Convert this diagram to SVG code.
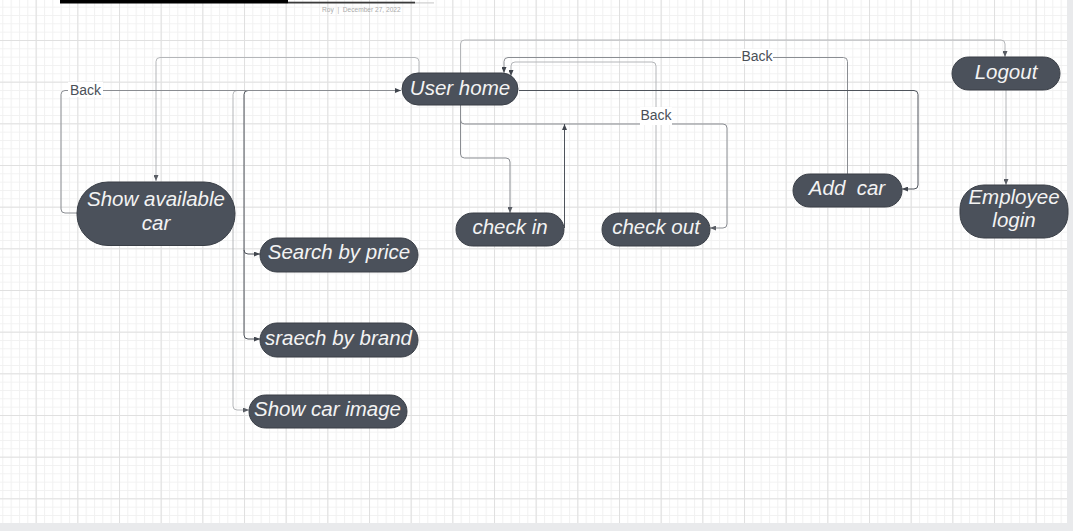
<svg xmlns="http://www.w3.org/2000/svg" width="1073" height="531" viewBox="0 0 1073 531">
<style>
.node rect{fill:#4b515b;stroke:#3a3f47;stroke-width:1}
.node text{fill:#f3f3f3;font-family:"Liberation Sans",Arial,sans-serif;font-style:italic;font-size:20.5px;text-anchor:middle}
.c{fill:none;stroke-width:1}
.dk{stroke:#4e535b}
.md{stroke:#8a8d92}
.lt{stroke:#b4b6b9}
.lbl{font-family:"Liberation Sans",Arial,sans-serif;font-size:14px;fill:#4a4f57;text-anchor:middle}
</style>
<defs>
<pattern id="minor" x="2.33" y="6.67" width="8.3333" height="8.3333" patternUnits="userSpaceOnUse">
<path d="M0 0.5H8.3333M0.5 0V8.3333" stroke="#f1f1f1" stroke-width="1" fill="none"/>
</pattern>
<pattern id="major" x="35.67" y="40" width="41.6667" height="41.6667" patternUnits="userSpaceOnUse">
<path d="M0 0.5H41.6667M0.5 0V41.6667" stroke="#e0e0e0" stroke-width="1" fill="none"/>
</pattern>
<marker id="ad" viewBox="0 0 6 5" markerWidth="6" markerHeight="5" refX="6" refY="2.5" orient="auto" markerUnits="userSpaceOnUse">
<path d="M0 0L6 2.5L0 5z" fill="#40454d"/>
</marker>
<marker id="ag" viewBox="0 0 6 5" markerWidth="6" markerHeight="5" refX="6" refY="2.5" orient="auto" markerUnits="userSpaceOnUse">
<path d="M0 0L6 2.5L0 5z" fill="#5a5e65"/>
</marker>
</defs>
<rect x="0" y="0" width="1073" height="531" fill="#e9eaec"/>
<rect x="0" y="0" width="1067" height="523" fill="#ffffff"/>
<rect x="0" y="0" width="1067" height="523" fill="url(#minor)"/>
<rect x="0" y="0" width="1067" height="523" fill="url(#major)"/>
<g id="header">
<rect x="60" y="0" width="228" height="3.5" fill="#000"/>
<rect x="288" y="1.7" width="127" height="1.8" fill="#3a3a3a"/>
<rect x="415" y="2.3" width="19" height="1.2" fill="#cfcfcf"/>
<text x="322" y="11.5" font-family="'Liberation Sans',Arial,sans-serif" font-size="6.6" fill="#aaaaaa" xml:space="preserve">Roy  |  December 27, 2022</text>
</g>
<g id="connectors">
<path class="c lt" d="M419 73V61.5Q419 57.5 415 57.5H160Q156 57.5 156 61.5V181" marker-end="url(#ag)"/>
<path class="c lt" d="M401 90.5H237Q233 90.5 233 94.5V406Q233 410 237 410H249" marker-end="url(#ag)"/>
<path class="c dk" d="M401 90.5H248Q244 90.5 244 94.5V250Q244 254 248 254H260" marker-end="url(#ad)"/>
<path class="c dk" d="M244 250V335Q244 339 248 339H260" marker-end="url(#ad)"/>
<path class="c md" d="M77 213H65Q61 213 61 209V94.5Q61 90.5 65 90.5H401" marker-end="url(#ad)"/>
<path class="c md" d="M460.5 105V154Q460.5 158 464.5 158H506Q510 158 510 162V213" marker-end="url(#ag)"/>
<path class="c md" d="M460.5 105V120Q460.5 124 464.5 124H723Q727 124 727 128V224Q727 228 723 228H710" marker-end="url(#ag)"/>
<path class="c dk" d="M564.5 228V124" marker-end="url(#ad)"/>
<path class="c lt" d="M656 213V66Q656 62 652 62H515Q511 62 511 66V76" marker-end="url(#ad)"/>
<path class="c md" d="M847.5 174V61.5Q847.5 57.5 843.5 57.5H508Q504 57.5 504 61.5V73" marker-end="url(#ad)"/>
<path class="c dk" d="M519 90.5H914Q918 90.5 918 94.5V185Q918 189 914 189H902" marker-end="url(#ad)"/>
<path class="c lt" d="M460.5 73V44Q460.5 40 464.5 40H1001Q1005 40 1005 44V57" marker-end="url(#ag)"/>
<path class="c lt" d="M1006 90V185" marker-end="url(#ag)"/>
<rect x="68" y="82" width="35" height="15" fill="#fff"/>
<text class="lbl" x="85.5" y="94.5">Back</text>
<rect x="640" y="107" width="32" height="18" fill="#fff"/>
<text class="lbl" x="656" y="120">Back</text>
<rect x="741" y="49" width="32" height="15" fill="#fff"/>
<text class="lbl" x="757" y="61">Back</text>
</g>
<g id="user-home" class="node"><rect x="402" y="73" width="116" height="32" rx="16"/><text x="460" y="95">User home</text></g>
<g id="show-available-car" class="node"><rect x="77" y="182" width="158" height="63.5" rx="31"/><text x="156" y="205.5">Show available</text><text x="156" y="230">car</text></g>
<g id="search-by-price" class="node"><rect x="260" y="238" width="158" height="34" rx="17"/><text x="339" y="259">Search by price</text></g>
<g id="search-by-brand" class="node"><rect x="260" y="323" width="158" height="34" rx="17"/><text x="338.5" y="345">sraech by brand</text></g>
<g id="show-car-image" class="node"><rect x="249" y="395" width="158" height="33" rx="16.5"/><text x="327.5" y="416">Show car image</text></g>
<g id="check-in" class="node"><rect x="456" y="213" width="108" height="33" rx="16.5"/><text x="510" y="233.5">check in</text></g>
<g id="check-out" class="node"><rect x="602" y="213" width="108" height="33" rx="16.5"/><text x="656" y="233.5">check out</text></g>
<g id="add-car" class="node"><rect x="793" y="174" width="109" height="33" rx="16.5"/><text x="847" y="195" xml:space="preserve">Add  car</text></g>
<g id="logout" class="node"><rect x="952" y="57" width="108" height="33" rx="16.5"/><text x="1006" y="78.5">Logout</text></g>
<g id="employee-login" class="node"><rect x="960" y="185" width="108" height="53" rx="24"/><text x="1014" y="203.5">Employee</text><text x="1014" y="227">login</text></g>
</svg>
